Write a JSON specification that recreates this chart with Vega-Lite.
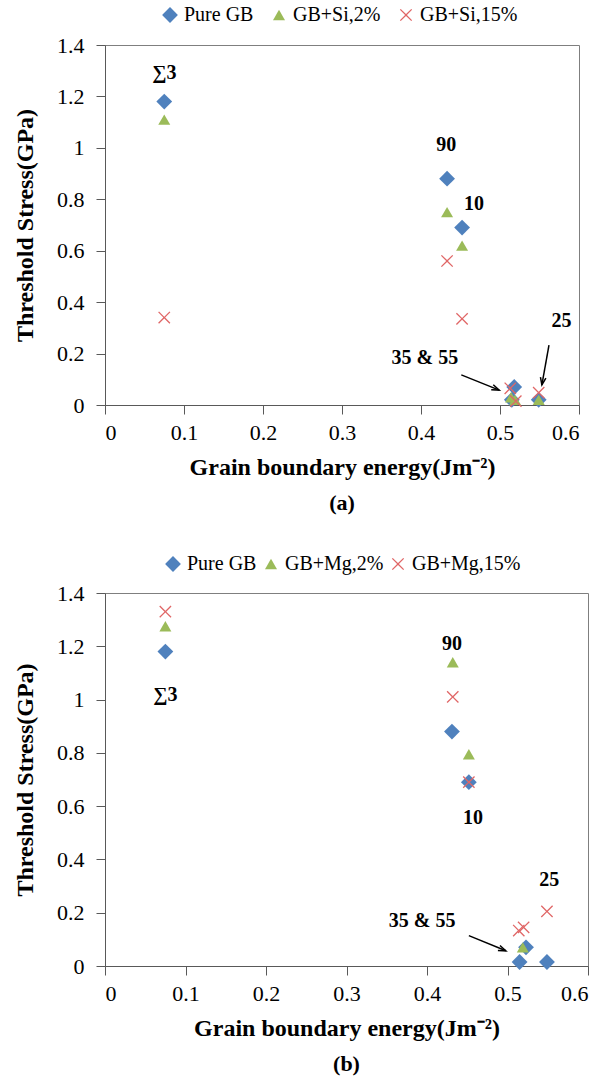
{
  "$schema": "https://vega.github.io/schema/vega-lite/v6.json",
  "padding": {"left": 13, "top": 4, "right": 4, "bottom": 4},
  "spacing": 38,
  "config": {
    "font": "Liberation Serif",
    "view": {"stroke": "#7f7f7f", "strokeWidth": 1},
    "axis": {"grid": false, "domainColor": "#595959", "tickColor": "#595959", "tickSize": 9, "labelFont": "Liberation Serif", "labelFontSize": 22, "labelColor": "#000000", "titleFont": "Liberation Serif", "titleFontSize": 24, "titleFontWeight": "bold", "titleColor": "#000000"},
    "legend": {"labelFont": "Liberation Serif", "labelFontSize": 20, "labelColor": "#000000", "symbolSize": 100, "symbolStrokeWidth": 0},
    "title": {"font": "Liberation Serif", "fontSize": 22, "fontWeight": "bold", "color": "#000000"}
  },
  "datasets": {
    "pointsA": [
      {"series": "Pure GB", "x": 0.075, "y": 1.18},
      {"series": "Pure GB", "x": 0.433, "y": 0.88},
      {"series": "Pure GB", "x": 0.452, "y": 0.69},
      {"series": "Pure GB", "x": 0.518, "y": 0.07},
      {"series": "Pure GB", "x": 0.515, "y": 0.02},
      {"series": "Pure GB", "x": 0.549, "y": 0.02},
      {"series": "GB+Si,2%", "x": 0.075, "y": 1.11},
      {"series": "GB+Si,2%", "x": 0.433, "y": 0.75},
      {"series": "GB+Si,2%", "x": 0.452, "y": 0.62},
      {"series": "GB+Si,2%", "x": 0.514, "y": 0.03},
      {"series": "GB+Si,2%", "x": 0.519, "y": 0.02},
      {"series": "GB+Si,2%", "x": 0.549, "y": 0.02},
      {"series": "GB+Si,15%", "x": 0.075, "y": 0.34},
      {"series": "GB+Si,15%", "x": 0.433, "y": 0.56},
      {"series": "GB+Si,15%", "x": 0.452, "y": 0.335},
      {"series": "GB+Si,15%", "x": 0.513, "y": 0.065},
      {"series": "GB+Si,15%", "x": 0.52, "y": 0.015},
      {"series": "GB+Si,15%", "x": 0.549, "y": 0.048}
    ],
    "pointsB": [
      {"series": "Pure GB", "x": 0.075, "y": 1.18},
      {"series": "Pure GB", "x": 0.431, "y": 0.88},
      {"series": "Pure GB", "x": 0.452, "y": 0.69},
      {"series": "Pure GB", "x": 0.523, "y": 0.07},
      {"series": "Pure GB", "x": 0.515, "y": 0.015},
      {"series": "Pure GB", "x": 0.549, "y": 0.015},
      {"series": "GB+Mg,2%", "x": 0.075, "y": 1.275},
      {"series": "GB+Mg,2%", "x": 0.432, "y": 1.14},
      {"series": "GB+Mg,2%", "x": 0.452, "y": 0.795},
      {"series": "GB+Mg,2%", "x": 0.519, "y": 0.07},
      {"series": "GB+Mg,15%", "x": 0.075, "y": 1.33},
      {"series": "GB+Mg,15%", "x": 0.432, "y": 1.01},
      {"series": "GB+Mg,15%", "x": 0.452, "y": 0.69},
      {"series": "GB+Mg,15%", "x": 0.514, "y": 0.133},
      {"series": "GB+Mg,15%", "x": 0.52, "y": 0.145},
      {"series": "GB+Mg,15%", "x": 0.549, "y": 0.205}
    ],
    "labelsA": [
      {"label": "∑3", "x": 0.075, "y": 1.29},
      {"label": "90", "x": 0.432, "y": 1.01},
      {"label": "10", "x": 0.467, "y": 0.78},
      {"label": "35 & 55", "x": 0.405, "y": 0.183},
      {"label": "25", "x": 0.578, "y": 0.325}
    ],
    "labelsB": [
      {"label": "∑3", "x": 0.075, "y": 1.017},
      {"label": "90", "x": 0.431, "y": 1.21},
      {"label": "10", "x": 0.457, "y": 0.556},
      {"label": "35 & 55", "x": 0.394, "y": 0.17},
      {"label": "25", "x": 0.552, "y": 0.324}
    ],
    "arrowsA": [
      {"id": "35 & 55", "x": 0.451, "y": 0.117, "x2": 0.499, "y2": 0.058},
      {"id": "25", "x": 0.562, "y": 0.233, "x2": 0.553, "y2": 0.078}
    ],
    "arrowsB": [
      {"id": "35 & 55", "x": 0.452, "y": 0.114, "x2": 0.498, "y2": 0.057}
    ]
  },
  "resolve": {"scale": {"x": "independent", "y": "independent", "color": "independent", "shape": "independent", "size": "independent"}, "legend": {"color": "independent", "shape": "independent", "size": "independent"}},
  "vconcat": [
    {
      "width": 474,
      "height": 360,
      "title": {"text": "(a)", "orient": "bottom", "anchor": "middle", "offset": 14},
      "layer": [
        {
          "data": {"name": "pointsA"},
          "mark": {"type": "point", "filled": true, "opacity": 1},
          "encoding": {
            "x": {"field": "x", "type": "quantitative", "scale": {"domain": [0, 0.6]}, "axis": {"title": "Grain boundary energy(Jm⁻²)", "values": [0, 0.1, 0.2, 0.3, 0.4, 0.5, 0.6], "format": "~g", "labelPadding": 8, "titlePadding": 12}},
            "y": {"field": "y", "type": "quantitative", "scale": {"domain": [0, 1.4]}, "axis": {"title": "Threshold Stress(GPa)", "values": [0, 0.2, 0.4, 0.6, 0.8, 1, 1.2, 1.4], "format": "~g", "labelPadding": 12, "titlePadding": 19}},
            "color": {"field": "series", "type": "nominal", "scale": {"domain": ["Pure GB", "GB+Si,2%", "GB+Si,15%"], "range": ["#4F81BD", "#9BBB59", "#E06666"]}, "legend": {"title": null, "orient": "none", "legendX": 55, "legendY": -40, "direction": "horizontal", "columnPadding": 15, "labelOffset": 4}},
            "shape": {"field": "series", "type": "nominal", "scale": {"domain": ["Pure GB", "GB+Si,2%", "GB+Si,15%"], "range": ["diamond", "triangle-up", "M-1,-0.85L-0.85,-1L0,-0.15L0.85,-1L1,-0.85L0.15,0L1,0.85L0.85,1L0,0.15L-0.85,1L-1,0.85L-0.15,0Z"]}, "legend": {"title": null, "orient": "none", "legendX": 55, "legendY": -40, "direction": "horizontal", "columnPadding": 15, "labelOffset": 4}},
            "size": {"field": "series", "type": "nominal", "scale": {"type": "ordinal", "domain": ["Pure GB", "GB+Si,2%", "GB+Si,15%"], "range": [250, 144, 150]}, "legend": null}
          }
        },
        {
          "data": {"name": "labelsA"},
          "mark": {"type": "text", "font": "Liberation Serif", "fontSize": 20, "fontWeight": "bold", "align": "center", "baseline": "middle", "color": "#000000"},
          "encoding": {
            "x": {"field": "x", "type": "quantitative"},
            "y": {"field": "y", "type": "quantitative"},
            "text": {"field": "label"}
          }
        },
        {
          "data": {"name": "arrowsA"},
          "mark": {"type": "rule", "color": "#000000", "strokeWidth": 1.5},
          "encoding": {
            "x": {"field": "x", "type": "quantitative"},
            "y": {"field": "y", "type": "quantitative"},
            "x2": {"field": "x2"},
            "y2": {"field": "y2"}
          }
        },
        {
          "data": {"name": "arrowsA"},
          "transform": [{"filter": "datum.id == '35 & 55'"}],
          "mark": {"type": "point", "filled": false, "color": "#000000", "strokeWidth": 1.5, "opacity": 1, "size": 100, "angle": 112, "shape": "M-0.55,1.5L0,0L0.55,1.5"},
          "encoding": {
            "x": {"field": "x2", "type": "quantitative"},
            "y": {"field": "y2", "type": "quantitative"}
          }
        },
        {
          "data": {"name": "arrowsA"},
          "transform": [{"filter": "datum.id == '25'"}],
          "mark": {"type": "point", "filled": false, "color": "#000000", "strokeWidth": 1.5, "opacity": 1, "size": 100, "angle": 190, "shape": "M-0.55,1.5L0,0L0.55,1.5"},
          "encoding": {
            "x": {"field": "x2", "type": "quantitative"},
            "y": {"field": "y2", "type": "quantitative"}
          }
        }
      ]
    },
    {
      "width": 483,
      "height": 373,
      "title": {"text": "(b)", "orient": "bottom", "anchor": "middle", "offset": 14},
      "layer": [
        {
          "data": {"name": "pointsB"},
          "mark": {"type": "point", "filled": true, "opacity": 1},
          "encoding": {
            "x": {"field": "x", "type": "quantitative", "scale": {"domain": [0, 0.6]}, "axis": {"title": "Grain boundary energy(Jm⁻²)", "values": [0, 0.1, 0.2, 0.3, 0.4, 0.5, 0.6], "format": "~g", "labelPadding": 8, "titlePadding": 12}},
            "y": {"field": "y", "type": "quantitative", "scale": {"domain": [0, 1.4]}, "axis": {"title": "Threshold Stress(GPa)", "values": [0, 0.2, 0.4, 0.6, 0.8, 1, 1.2, 1.4], "format": "~g", "labelPadding": 12, "titlePadding": 19}},
            "color": {"field": "series", "type": "nominal", "scale": {"domain": ["Pure GB", "GB+Mg,2%", "GB+Mg,15%"], "range": ["#4F81BD", "#9BBB59", "#E06666"]}, "legend": {"title": null, "orient": "none", "legendX": 58, "legendY": -39, "direction": "horizontal", "columnPadding": 4, "labelOffset": 4}},
            "shape": {"field": "series", "type": "nominal", "scale": {"domain": ["Pure GB", "GB+Mg,2%", "GB+Mg,15%"], "range": ["diamond", "triangle-up", "M-1,-0.85L-0.85,-1L0,-0.15L0.85,-1L1,-0.85L0.15,0L1,0.85L0.85,1L0,0.15L-0.85,1L-1,0.85L-0.15,0Z"]}, "legend": {"title": null, "orient": "none", "legendX": 58, "legendY": -39, "direction": "horizontal", "columnPadding": 4, "labelOffset": 4}},
            "size": {"field": "series", "type": "nominal", "scale": {"type": "ordinal", "domain": ["Pure GB", "GB+Mg,2%", "GB+Mg,15%"], "range": [250, 144, 150]}, "legend": null}
          }
        },
        {
          "data": {"name": "labelsB"},
          "mark": {"type": "text", "font": "Liberation Serif", "fontSize": 20, "fontWeight": "bold", "align": "center", "baseline": "middle", "color": "#000000"},
          "encoding": {
            "x": {"field": "x", "type": "quantitative"},
            "y": {"field": "y", "type": "quantitative"},
            "text": {"field": "label"}
          }
        },
        {
          "data": {"name": "arrowsB"},
          "mark": {"type": "rule", "color": "#000000", "strokeWidth": 1.5},
          "encoding": {
            "x": {"field": "x", "type": "quantitative"},
            "y": {"field": "y", "type": "quantitative"},
            "x2": {"field": "x2"},
            "y2": {"field": "y2"}
          }
        },
        {
          "data": {"name": "arrowsB"},
          "mark": {"type": "point", "filled": false, "color": "#000000", "strokeWidth": 1.5, "opacity": 1, "size": 100, "angle": 112, "shape": "M-0.55,1.5L0,0L0.55,1.5"},
          "encoding": {
            "x": {"field": "x2", "type": "quantitative"},
            "y": {"field": "y2", "type": "quantitative"}
          }
        }
      ]
    }
  ]
}
